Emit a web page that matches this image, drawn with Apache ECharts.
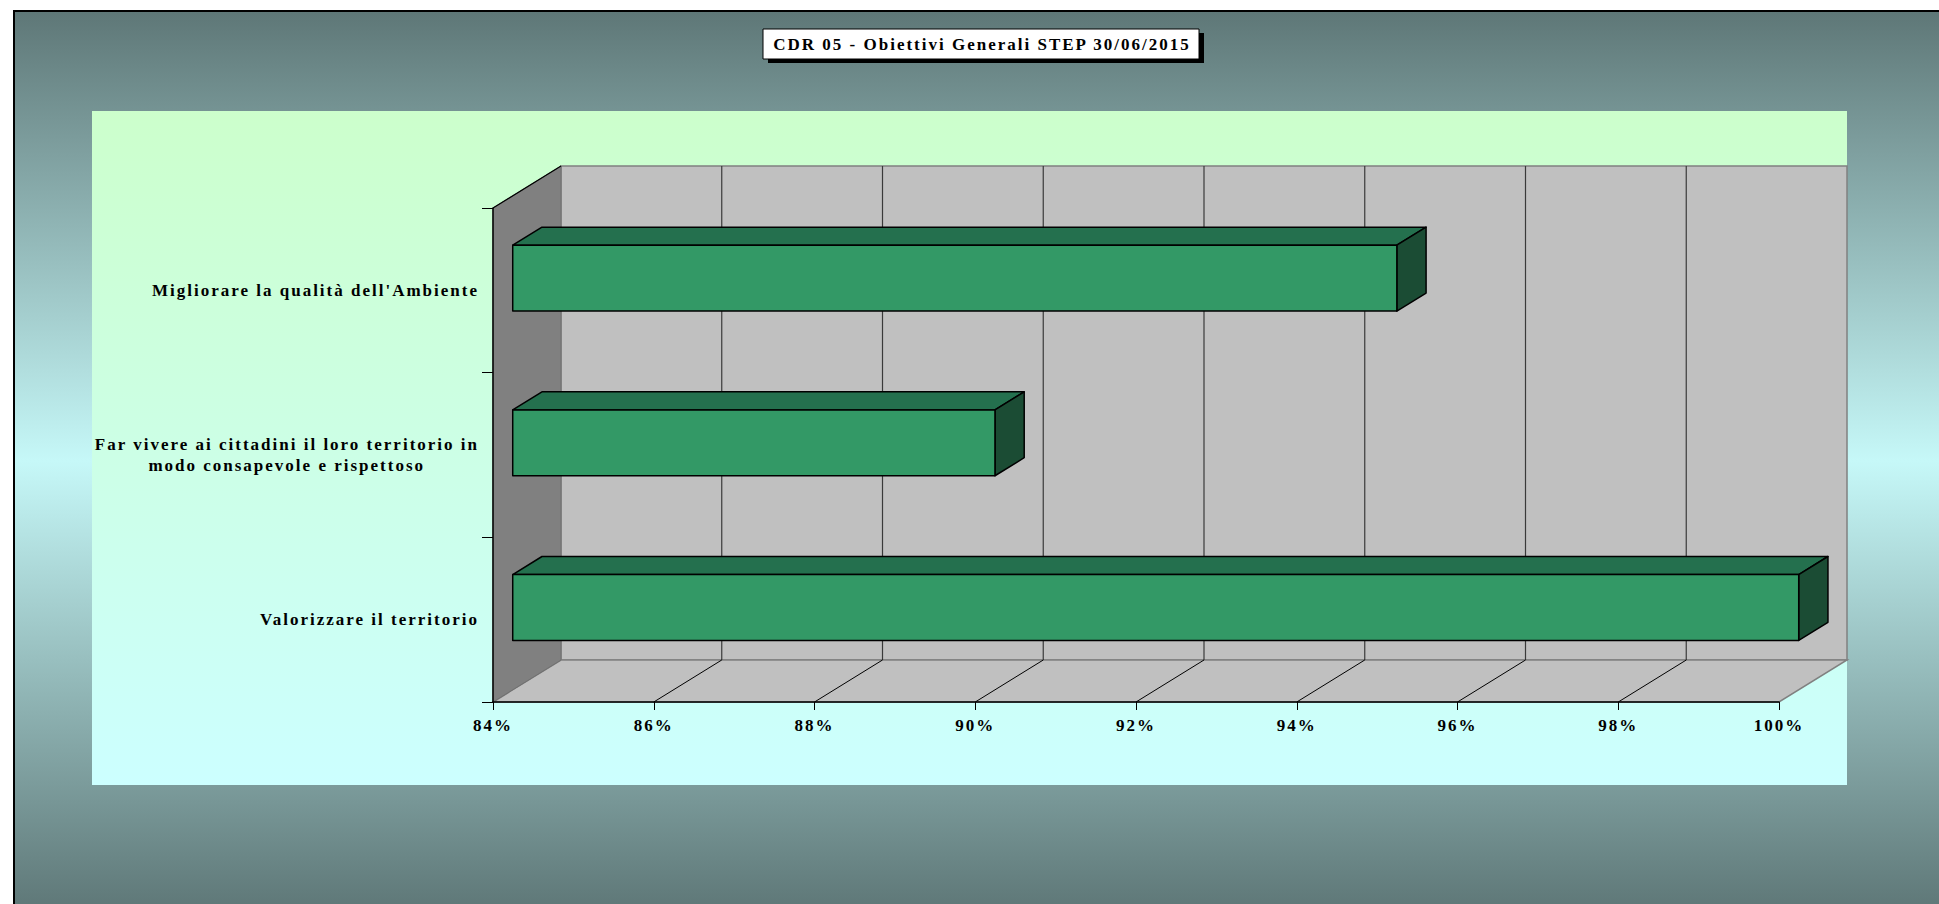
<!DOCTYPE html>
<html>
<head>
<meta charset="utf-8">
<title>CDR 05 - Obiettivi Generali</title>
<script src="https://cdn.jsdelivr.net/npm/echarts@6/dist/echarts.min.js"></script>
<style>
  html, body { margin: 0; padding: 0; background: #fff; overflow: hidden; }
  #chart { width: 1939px; height: 904px; }
  /* the original export uses a widely spaced serif face */
  #chart text { letter-spacing: 2px; }
</style>
</head>
<body>
<div id="chart"></div>
<script>
const titleText = 'CDR 05 - Obiettivi Generali STEP 30/06/2015';
const categories = [
  "Migliorare la qualità dell'Ambiente",
  'Far vivere ai cittadini il loro territorio in\nmodo consapevole e rispettoso',
  'Valorizzare il territorio'
];
const values = [95, 90, 100];
const xTicks = [84, 86, 88, 90, 92, 94, 96, 98, 100];

const xMin = xTicks[0];
const xMax = xTicks[xTicks.length - 1];
const font = '"Liberation Serif", "Times New Roman", serif';
// offset of the back wall from the front plane (fake 3d)
const depth = [68, -42];
const barFront = 0.29;
const barBack = 0.72;

const chart = echarts.init(document.getElementById('chart'), null, { renderer: 'svg' });

function wallsItem(params, api) {
  const r = params.coordSys;
  const dx = depth[0], dy = depth[1];
  const l = r.x, t = r.y, rt = r.x + r.width, b = r.y + r.height;
  return {
    type: 'group',
    children: [
      {
        type: 'polygon',
        shape: { points: [[l + dx, t + dy], [rt + dx, t + dy], [rt + dx, b + dy], [l + dx, b + dy]] },
        style: { fill: '#c0c0c0', stroke: '#808080', lineWidth: 1.5 }
      },
      {
        type: 'polygon',
        shape: { points: [[l, b], [l + dx, b + dy], [rt + dx, b + dy], [rt, b]] },
        style: { fill: '#c0c0c0', stroke: '#808080', lineWidth: 1.5 }
      },
      {
        type: 'polygon',
        shape: { points: [[l, t], [l + dx, t + dy], [l + dx, b + dy], [l, b]] },
        style: { fill: '#808080', stroke: '#707070', lineWidth: 1 }
      },
      {
        type: 'line',
        shape: { x1: l, y1: t, x2: l + dx, y2: t + dy },
        style: { stroke: '#000', lineWidth: 1.2 }
      }
    ]
  };
}

function gridLineItem(params, api) {
  const r = params.coordSys;
  const x = api.coord([api.value(0), 0])[0];
  const b = r.y + r.height;
  return {
    type: 'group',
    children: [
      {
        type: 'line',
        shape: { x1: x + depth[0], y1: r.y + depth[1], x2: x + depth[0], y2: b + depth[1] },
        style: { stroke: '#3a3a3a', lineWidth: 1.2 }
      },
      {
        type: 'line',
        shape: { x1: x, y1: b, x2: x + depth[0], y2: b + depth[1] },
        style: { stroke: '#000', lineWidth: 1 }
      }
    ]
  };
}

function barItem(params, api) {
  const c = api.value(1);
  const start = api.coord([xMin, c]);
  const end = api.coord([api.value(0), c]);
  const h = api.size([0, 1])[1] * 0.4;
  const ax = start[0] + depth[0] * barFront;
  const ay = start[1] - h / 2 + depth[1] * barFront;
  const bx = end[0] + depth[0] * barFront;
  const ddx = depth[0] * (barBack - barFront);
  const ddy = depth[1] * (barBack - barFront);
  const edge = { stroke: '#000', lineWidth: 1.5, lineJoin: 'round' };
  return {
    type: 'group',
    children: [
      {
        type: 'polygon',
        shape: { points: [[ax, ay], [ax + ddx, ay + ddy], [bx + ddx, ay + ddy], [bx, ay]] },
        style: Object.assign({ fill: '#24704e' }, edge)
      },
      {
        type: 'polygon',
        shape: { points: [[bx, ay], [bx + ddx, ay + ddy], [bx + ddx, ay + h + ddy], [bx, ay + h]] },
        style: Object.assign({ fill: '#1b4c34' }, edge)
      },
      {
        type: 'rect',
        shape: { x: ax, y: ay, width: bx - ax, height: h },
        style: Object.assign({ fill: '#339966' }, edge)
      }
    ]
  };
}

const labelStyle = { fontFamily: font, fontWeight: 'bold', fontSize: 17, color: '#000' };

const option = {
  animation: false,
  backgroundColor: '#fff',
  graphic: [
    {
      type: 'rect',
      z: -20,
      shape: { x: 14, y: 11, width: 2000, height: 900 },
      style: {
        fill: new echarts.graphic.LinearGradient(0, 0, 0, 1, [
          { offset: 0, color: '#5e7777' },
          { offset: 0.5, color: '#c6f8f8' },
          { offset: 1, color: '#5e7777' }
        ])
      }
    },
    {
      type: 'polyline',
      z: -18,
      shape: { points: [[14, 910], [14, 11], [1960, 11]] },
      style: { stroke: '#000', lineWidth: 2, fill: null }
    },
    {
      type: 'rect',
      z: -19,
      shape: { x: 92, y: 111, width: 1755, height: 674 },
      style: {
        fill: new echarts.graphic.LinearGradient(0, 0, 0, 1, [
          { offset: 0, color: '#ccffcc' },
          { offset: 1, color: '#ccffff' }
        ])
      }
    },
    {
      type: 'group',
      z: 50,
      children: [
        { type: 'rect', shape: { x: 768, y: 33, width: 436, height: 30 }, style: { fill: '#000' } },
        { type: 'rect', shape: { x: 763, y: 29, width: 436, height: 30 }, style: { fill: '#fff', stroke: '#000', lineWidth: 1 } },
        {
          type: 'text',
          x: 982,
          y: 44,
          style: {
            text: titleText,
            align: 'center',
            verticalAlign: 'middle',
            font: 'bold 17px ' + font,
            fill: '#000'
          }
        }
      ]
    }
  ],
  grid: {
    left: 493,
    top: 208,
    width: 1286,
    height: 494,
    outerBoundsMode: 'none'
  },
  xAxis: {
    type: 'value',
    min: xMin,
    max: xMax,
    interval: 2,
    z: 10,
    axisLine: { show: true, lineStyle: { color: '#000', width: 1.5 } },
    axisTick: { show: true, length: 8, lineStyle: { color: '#000', width: 1 } },
    splitLine: { show: false },
    axisLabel: Object.assign({ margin: 15, formatter: '{value}%' }, labelStyle)
  },
  yAxis: {
    type: 'category',
    inverse: true,
    data: categories,
    z: 10,
    axisLine: { show: true, lineStyle: { color: '#000', width: 1.5 } },
    axisTick: { show: true, length: 11, interval: 0, lineStyle: { color: '#000', width: 1 } },
    splitLine: { show: false },
    axisLabel: Object.assign({
      interval: 0,
      margin: 14,
      formatter: function (value) {
        const lines = value.split('\n');
        if (lines.length === 1) return value;
        return '{a|' + lines[0] + '}\n{b|' + lines[1] + '}';
      },
      rich: {
        a: Object.assign({ align: 'right', lineHeight: 21 }, labelStyle),
        b: Object.assign({ align: 'right', lineHeight: 21, padding: [0, 54, 0, 0] }, labelStyle)
      }
    }, labelStyle)
  },
  series: [
    {
      name: 'walls',
      type: 'custom',
      z: 1,
      silent: true,
      renderItem: wallsItem,
      encode: { x: 0, y: 1 },
      data: [[xMin, 0]]
    },
    {
      name: 'grid',
      type: 'custom',
      z: 2,
      silent: true,
      renderItem: gridLineItem,
      encode: { x: 0, y: 1 },
      data: xTicks.filter(t => t > xMin && t < xMax).map(t => [t, 0])
    },
    {
      name: 'Obiettivi',
      type: 'custom',
      z: 3,
      renderItem: barItem,
      encode: { x: 0, y: 1 },
      data: values.map((v, i) => [v, i])
    }
  ]
};

chart.setOption(option);
</script>
</body>
</html>
